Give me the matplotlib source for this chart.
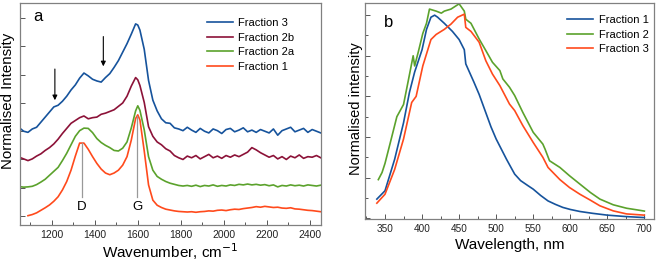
import matplotlib
matplotlib.use("Agg")
from matplotlib import pyplot as plt
from matplotlib.ticker import MultipleLocator, NullFormatter

plt.rcParams['font.family'] = ['Liberation Sans', 'DejaVu Sans']

nan = float('nan')

# ---- panel a : Raman spectra (offset stacked, arb. units) ----
raman_x = list(range(1050, 1600, 20)) + [1600] + list(range(1610, 2451, 20))

# Fraction 1 (bottom)
f1_y = [nan, nan, 0.01, 0.05, 0.11, 0.20, 0.29, 0.39, 0.52, 0.68, 0.92, 1.22, 1.62, 2.12, 2.58,
        2.58, 2.36, 2.10, 1.86, 1.66, 1.52, 1.46, 1.52, 1.62, 1.80, 2.10, 2.69, 3.45, 3.58,
        3.40, 2.30, 1.10, 0.56, 0.38, 0.30, 0.24, 0.21, 0.18, 0.16, 0.15, 0.14, 0.15, 0.13, 0.15,
        0.16, 0.18, 0.17, 0.20, 0.21, 0.19, 0.22, 0.24, 0.23, 0.26, 0.28, 0.30, 0.33, 0.31, 0.34,
        0.32, 0.30, 0.31, 0.28, 0.27, 0.29, 0.25, 0.24, 0.22, 0.20, 0.19, 0.17, 0.15]
# Fraction 2a
f2a_y = [1.04, 1.02, 1.03, 1.05, 1.11, 1.20, 1.30, 1.44, 1.58, 1.72, 1.96, 2.22, 2.52, 2.82, 3.02,
         3.11, 3.10, 2.95, 2.74, 2.60, 2.50, 2.42, 2.32, 2.30, 2.40, 2.62, 3.12, 3.72, 3.90,
         3.74, 3.05, 2.10, 1.62, 1.40, 1.30, 1.22, 1.16, 1.12, 1.08, 1.06, 1.08, 1.05, 1.09, 1.04,
         1.08, 1.06, 1.10, 1.05, 1.08, 1.06, 1.10, 1.08, 1.12, 1.10, 1.13, 1.10, 1.12, 1.09, 1.11,
         1.07, 1.10, 1.03, 1.08, 1.06, 1.10, 1.07, 1.09, 1.06, 1.10, 1.08, 1.06, 1.09]
# Fraction 2b
f2b_y = [2.08, 2.02, 1.96, 2.02, 2.12, 2.20, 2.32, 2.42, 2.55, 2.72, 2.92, 3.10, 3.28, 3.38, 3.48,
         3.54, 3.44, 3.48, 3.50, 3.60, 3.64, 3.70, 3.76, 3.88, 4.00, 4.24, 4.60, 4.90, 4.82,
         4.62, 4.02, 3.16, 2.82, 2.62, 2.52, 2.38, 2.30, 2.14, 2.06, 2.00, 2.12, 2.06, 2.14, 2.02,
         2.10, 2.18, 2.06, 2.12, 2.04, 2.14, 2.08, 2.16, 2.10, 2.18, 2.26, 2.42, 2.34, 2.24, 2.16,
         2.08, 2.14, 2.02, 2.10, 2.00, 2.12, 2.06, 2.16, 2.04, 2.10, 2.08, 2.14, 2.06]
# Fraction 3 (top)
f3_y = [3.12, 3.00, 2.96, 3.08, 3.14, 3.32, 3.50, 3.68, 3.86, 3.92, 4.06, 4.24, 4.46, 4.64, 4.88,
        5.06, 4.96, 4.84, 4.78, 4.74, 4.90, 5.04, 5.26, 5.50, 5.80, 6.10, 6.44, 6.80, 6.76,
        6.58, 5.90, 4.80, 4.10, 3.72, 3.44, 3.30, 3.28, 3.12, 3.08, 3.02, 3.14, 3.04, 2.96, 3.10,
        3.00, 2.94, 3.08, 3.02, 2.92, 3.06, 3.10, 2.98, 3.04, 3.12, 2.98, 3.04, 2.96, 3.06, 3.00,
        2.94, 3.08, 2.86, 3.02, 3.08, 3.14, 2.98, 3.04, 3.10, 2.96, 3.06, 3.00, 2.94]

# ---- panel b : photoluminescence ----
p1_x = [339, 350, 363, 375, 383, 390, 400, 406, 412, 417, 421, 430, 441, 450, 457, 459, 470, 477,
        486, 493, 500, 507, 514, 520, 525, 533, 543, 550, 560, 570, 580, 590, 600, 613, 630, 650,
        675, 700]
p1_y = [0.094, 0.135, 0.29, 0.47, 0.62, 0.72, 0.83, 0.93, 0.99, 1.0, 0.99, 0.96, 0.92, 0.88, 0.83,
        0.76, 0.67, 0.61, 0.52, 0.45, 0.39, 0.34, 0.29, 0.25, 0.217, 0.185, 0.16, 0.143, 0.112,
        0.085, 0.068, 0.053, 0.043, 0.033, 0.024, 0.015, 0.008, 0.003]

p2_x = [341, 346, 350, 357, 366, 375, 381, 388, 390, 395, 401, 406, 410, 419, 426, 430, 439, 450,
        457, 459, 466, 477, 486, 495, 505, 509, 518, 525, 536, 550, 563, 566, 572, 586, 599, 613,
        627, 640, 658, 676, 690, 700]
p2_y = [0.19, 0.225, 0.27, 0.37, 0.50, 0.56, 0.67, 0.80, 0.75, 0.82, 0.91, 0.96, 1.03, 1.02, 1.01,
        1.02, 1.03, 1.056, 1.02, 0.98, 0.96, 0.883, 0.826, 0.768, 0.727, 0.686, 0.645, 0.604, 0.521,
        0.423, 0.365, 0.34, 0.283, 0.25, 0.209, 0.168, 0.127, 0.094, 0.066, 0.049, 0.041, 0.035]

p3_x = [339, 350, 363, 375, 386, 392, 401, 412, 419, 430, 439, 448, 457, 459, 466, 477, 486, 495,
        505, 518, 525, 536, 550, 563, 570, 586, 599, 613, 627, 640, 658, 676, 700]
p3_y = [0.074, 0.118, 0.24, 0.39, 0.57, 0.60, 0.75, 0.88, 0.905, 0.93, 0.956, 0.99, 1.005, 0.94,
        0.92, 0.867, 0.776, 0.71, 0.653, 0.562, 0.53, 0.456, 0.373, 0.30, 0.25, 0.19, 0.151, 0.118,
        0.089, 0.061, 0.036, 0.021, 0.015]

blue = '#16539c'
wine = '#8c1238'
green = '#5ba22c'
orange = '#ff4a1c'
spine_col = '#808080'

fig = plt.figure(figsize=(6.6, 2.64), dpi=100)

def style(ax, lsize):
    for s in ax.spines.values():
        s.set_color(spine_col)
        s.set_linewidth(0.9)
    ax.tick_params(which='both', direction='in', colors='#555555', labelcolor='#222222',
                   labelsize=lsize, width=0.7)
    ax.tick_params(which='major', length=3.5)
    ax.tick_params(which='minor', length=2)

# panel a
ax1 = fig.add_axes([20/660, 39/264, 301/660, 222/264])
ax1.plot(raman_x, f1_y, color=orange, lw=1.2, label='Fraction 1')
ax1.plot(raman_x, f2a_y, color=green, lw=1.2, label='Fraction 2a')
ax1.plot(raman_x, f2b_y, color=wine, lw=1.2, label='Fraction 2b')
ax1.plot(raman_x, f3_y, color=blue, lw=1.2, label='Fraction 3')
ax1.set_xlim(1053, 2451)
ax1.set_ylim(-0.32, 7.54)
ax1.xaxis.set_major_locator(MultipleLocator(200))
ax1.xaxis.set_minor_locator(MultipleLocator(100))
ax1.yaxis.set_major_locator(MultipleLocator(1))
ax1.yaxis.set_major_formatter(NullFormatter())
style(ax1, 7.5)
ax1.set_xlabel('Wavenumber, cm$^{-1}$', fontsize=11, labelpad=1)
ax1.set_ylabel('Normalised Intensity', fontsize=10.8)
ax1.yaxis.set_label_coords(-0.017, 0.56)

# peak markers
ax1.plot([1340, 1340], [0.68, 2.58], color='#999999', lw=0.9)
ax1.plot([1597, 1597], [0.68, 3.55], color='#999999', lw=0.9)
ax1.text(1340, 0.33, 'D', ha='center', va='center', fontsize=9.5)
ax1.text(1597, 0.33, 'G', ha='center', va='center', fontsize=9.5)
ax1.annotate('', xy=(1215, 4.0), xytext=(1215, 5.3),
             arrowprops=dict(arrowstyle='-|>', color='black', lw=0.8, mutation_scale=7))
ax1.annotate('', xy=(1440, 5.2), xytext=(1440, 6.45),
             arrowprops=dict(arrowstyle='-|>', color='black', lw=0.8, mutation_scale=7))
ax1.text(0.06, 0.937, 'a', transform=ax1.transAxes, fontsize=12, ha='center', va='center')

h, l = ax1.get_legend_handles_labels()
ax1.legend(h[::-1], l[::-1], loc='upper left', bbox_to_anchor=(207/660, 1 - 18/264),
           bbox_transform=fig.transFigure, frameon=False, fontsize=8, handlelength=2.35,
           handletextpad=0.4, labelspacing=0.42, borderpad=0, borderaxespad=0)

# panel b
ax2 = fig.add_axes([365/660, 45/264, 289/660, 216/264])
ax2.plot(p1_x, p1_y, color=blue, lw=1.2, label='Fraction 1')
ax2.plot(p2_x, p2_y, color=green, lw=1.2, label='Fraction 2')
ax2.plot(p3_x, p3_y, color=orange, lw=1.2, label='Fraction 3')
ax2.set_xlim(323, 713)
ax2.set_ylim(-0.004, 1.06)
ax2.xaxis.set_major_locator(MultipleLocator(50))
ax2.xaxis.set_minor_locator(MultipleLocator(25))
ax2.yaxis.set_major_locator(MultipleLocator(0.2))
ax2.yaxis.set_minor_locator(MultipleLocator(0.1))
ax2.yaxis.set_major_formatter(NullFormatter())
style(ax2, 7.2)
ax2.set_xlabel('Wavelength, nm', fontsize=11, labelpad=3)
ax2.set_ylabel('Normalised intensity', fontsize=10.5)
ax2.yaxis.set_label_coords(-0.007, 0.51)
ax2.text(0.08, 0.91, 'b', transform=ax2.transAxes, fontsize=12, ha='center', va='center')
ax2.legend(loc='upper left', bbox_to_anchor=(567/660, 1 - 15/264),
           bbox_transform=fig.transFigure, frameon=False, fontsize=8, handlelength=2.35,
           handletextpad=0.5, labelspacing=0.42, borderpad=0, borderaxespad=0)

plt.savefig('out.png', dpi=100)
